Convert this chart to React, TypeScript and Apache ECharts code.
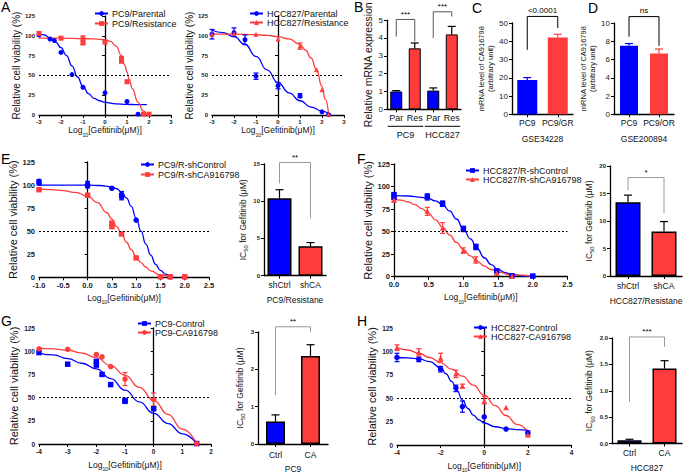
import React, { useEffect, useRef } from "react";
import * as echarts from "echarts";

// ---------------- data ----------------
// Panel A (left) – PC9
const aPc9ParentalPts = [[-3, 101], [-2.5, 96], [-2.3, 94], [-2, 79], [-1.5, 51], [-1, 35], [0, 28], [1, 17], [1.5, 1]];
const aPc9ParentalCurve = [[-3, 104], [-2.75, 101], [-2.5, 97], [-2.25, 92], [-2, 85], [-1.75, 75], [-1.5, 62], [-1.25, 48], [-1, 36], [-0.75, 27], [-0.5, 21], [-0.25, 18], [0, 16], [0.5, 14], [1, 13.5], [1.5, 13], [1.9, 13]];
const aPc9ResistPts = [[-3, 103], [-2, 97], [-1, 96], [-1, 91], [0, 92], [0.75, 71], [0.75, 68], [1, 42], [1.75, 1], [2, 1]];
const aPc9ResistErr = [[-1, 89, 100], [0.75, 66, 74]];
const aPc9ResistCurve = [[-3, 97], [-2, 97], [-1, 96.5], [-0.5, 96], [0, 95], [0.25, 93], [0.5, 87], [0.75, 75], [0.9, 63], [1, 54], [1.1, 45], [1.25, 33], [1.5, 16], [1.75, 5], [1.9, 0]];
// Panel A (right) – HCC827
const aHccParentalPts = [[-3, 102], [-2, 104], [-1.5, 95], [-1, 49], [0, 37], [1, 24], [2, 4], [2.3, 0.5]];
const aHccParentalErr = [[-3, 96, 108], [-2, 99, 110], [-1.5, 89, 101], [-1, 45, 53], [0, 33, 41], [1, 22, 27]];
const aHccParentalCurve = [[-3, 107], [-2.5, 104], [-2, 99], [-1.5, 89], [-1, 74], [-0.5, 57], [0, 41], [0.5, 28], [1, 18], [1.5, 10], [2, 5], [2.3, 2]];
const aHccResistPts = [[-3, 102], [-2, 103], [-1, 102], [0, 96], [1, 87], [1.75, 57], [2, 32], [2.3, 1]];
const aHccResistErr = [[1, 83, 91]];
const aHccResistCurve = [[-3, 102], [-2, 102], [-1, 101.5], [-0.5, 100.5], [0, 99], [0.5, 96], [1, 89], [1.25, 82], [1.5, 72], [1.75, 57], [2, 36], [2.15, 20], [2.3, 1]];
// Panel B
const bCategories = ["Par", "Res", "Par", "Res"];
const bGroups = ["PC9", "HCC827"];
const bValues = [1.0, 3.42, 1.05, 4.2];
const bErrors = [0.05, 0.3, 0.15, 0.45];
// Panel C
const cCategories = ["PC9", "PC9/GR"];
const cValues = [18.8, 42];
const cErrors = [1.3, 1.8];
// Panel D
const dCategories = ["PC9", "PC9/OR"];
const dValues = [7.5, 6.65];
const dErrors = [0.25, 0.5];
// Panel E
const eCtrlPts = [[-1, 104], [-1, 102], [0, 101], [0, 99], [0.5, 96.5], [0.7, 90], [0.7, 87], [1, 62], [1.7, 0.5], [2, 0.5]];
const eCtrlErr = [[-1, 100, 106], [0, 97, 104], [0.7, 84, 93]];
const eCtrlCurve = [[-1, 100], [-0.5, 100], [0, 100], [0.25, 99.5], [0.5, 98], [0.6, 96], [0.7, 92.5], [0.8, 86], [0.9, 77], [1, 64], [1.1, 50], [1.2, 36], [1.3, 24], [1.4, 14], [1.5, 7.5], [1.6, 3.5], [1.7, 1]];
const eShPts = [[-1, 95], [0, 89], [0.5, 58], [0.5, 55], [0.7, 47], [1, 21], [1.5, 0.5], [1.7, 0.5], [2, 0.5]];
const eShErr = [[0.5, 53, 61]];
const eShCurve = [[-1, 95.5], [-0.75, 95], [-0.5, 94], [-0.25, 92], [0, 88], [0.2, 81], [0.4, 70], [0.5, 63], [0.6, 55], [0.7, 47], [0.8, 38], [0.9, 30], [1, 22], [1.1, 16], [1.2, 11], [1.3, 7], [1.5, 2.5], [1.7, 0.5]];
const eBarCategories = ["shCtrl", "shCA"];
const eBarValues = [10.4, 3.95];
const eBarErrors = [1.15, 0.5];
// Panel F
const fCtrlPts = [[0, 91], [0, 88], [0.48, 88.5], [0.7, 81], [1, 53], [1.18, 33], [1.48, 6.5], [1.7, 1], [2, 0.7]];
const fCtrlErr = [[0, 86, 93], [0.48, 85, 92], [0.7, 78, 84], [1, 50, 56], [1.18, 30, 36]];
const fCtrlCurve = [[0, 90], [0.2, 89.5], [0.4, 88], [0.5, 86.5], [0.6, 84], [0.7, 80], [0.8, 73], [0.9, 64], [1, 53], [1.1, 42], [1.2, 31], [1.3, 21], [1.4, 13.5], [1.5, 8], [1.6, 4.5], [1.7, 2.5], [1.85, 1], [2, 0.5]];
const fShPts = [[0, 85], [0.48, 73], [0.7, 54], [1, 29], [1.18, 19], [1.48, 4], [1.7, 0.7]];
const fShErr = [[0, 83, 88], [0.48, 68, 77], [0.7, 48, 60], [1, 26, 32], [1.18, 15, 22], [1.48, 2, 5]];
const fShCurve = [[0, 86], [0.1, 85], [0.2, 83], [0.3, 80], [0.4, 75.5], [0.5, 70], [0.6, 63], [0.7, 55], [0.8, 46.5], [0.9, 38], [1, 30], [1.1, 23], [1.2, 17], [1.3, 12], [1.4, 8], [1.5, 5], [1.7, 2], [2, 0.5]];
const fBarCategories = ["shCtrl", "shCA"];
const fBarValues = [13.4, 8.1];
const fBarErrors = [1.3, 1.8];
// Panel G
const gCtrlPts = [[-4, 98.5], [-3, 86], [-2, 89], [-2, 85], [-1.8, 75], [-1.5, 64], [-1, 47], [-1, 46], [0, 38], [1.5, 0.5]];
const gCtrlCurve = [[-4, 98], [-3.5, 96], [-3, 92], [-2.5, 87], [-2, 81], [-1.5, 70.5], [-1, 58], [-0.5, 45.5], [0, 33], [0.5, 22], [1, 11], [1.5, 0.5]];
const gCaPts = [[-4, 102.5], [-3, 102], [-2, 96.5], [-1.8, 94], [-1.5, 83.5], [-1, 70], [0, 48], [1.5, 0.5]];
const gCaErr = [[-1, 63, 77], [0, 41, 55]];
const gCaCurve = [[-4, 103], [-3.5, 102.5], [-3, 101], [-2.5, 98], [-2, 93], [-1.5, 84.5], [-1, 74], [-0.5, 61], [0, 47], [0.5, 32], [1, 16], [1.5, 0.5]];
const gBarCategories = ["Ctrl", "CA"];
const gBarValues = [0.6, 2.36];
const gBarErrors = [0.18, 0.3];
// Panel H
const hCtrlPts = [[-4, 93.5], [-3, 91.5], [-2, 81], [-1.3, 61], [-1, 41], [0, 30], [1, 17], [2, 13]];
const hCtrlErr = [[-4, 89, 98], [-3, 89, 94], [-2, 78, 84], [-1.3, 57, 64], [-1, 35, 47], [2, 11, 15]];
const hCtrlCurve = [[-4, 93.5], [-3.5, 93], [-3, 92], [-2.5, 89], [-2, 82.5], [-1.75, 76], [-1.5, 68], [-1.25, 58], [-1, 48], [-0.75, 39], [-0.5, 32], [-0.25, 27], [0, 23.5], [0.5, 19.5], [1, 17.5], [1.5, 16.5], [2, 16]];
const hCaPts = [[-4, 104], [-3, 99], [-2, 93], [-1.3, 76], [-1, 63], [0, 47], [1, 40], [2, 11]];
const hCaErr = [[-4, 101, 107], [-3, 95, 103], [-2, 89, 98], [-1.3, 72, 80], [-1, 61, 65], [0, 44, 52], [2, 9, 13]];
const hCaCurve = [[-4, 104], [-3.5, 101.5], [-3, 98], [-2.5, 93.5], [-2, 88], [-1.5, 81], [-1, 73.5], [-0.5, 64], [0, 53], [0.5, 42], [1, 31.5], [1.5, 22], [2, 14]];
const hBarCategories = ["Ctrl", "CA"];
const hBarValues = [0.06, 1.42];
const hBarErrors = [0.02, 0.15];
// significance brackets: [cat1, cat2, top, leftLegEnd, rightLegEnd]
const bBrackets = [[0, 1, 5.04, 4.07, 3.8], [2, 3, 5.47, 4.0, 5.2]];
const bBracketLabels = ["***", "***"];
const cBrackets = [[0, 1, 53.6, 35.3, 47.2]];
const cBracketLabels = ["<0.0001"];
const dBrackets = [[0, 1, 10.7, 8.5, 7.5]];
const dBracketLabels = ["ns"];
const eBrackets = [[0, 1, 15.2, 12.4, 7.7]];
const eBracketLabels = ["**"];
const fBrackets = [[0, 1, 17.9, 15.6, 11.4]];
const fBracketLabels = ["*"];
const gBrackets = [[0, 1, 3.14, 1.31, 3.0]];
const gBracketLabels = ["**"];
const hBrackets = [[0, 1, 2.02, 0.79, 1.83]];
const hBracketLabels = ["***"];

// ---------------- styles ----------------
const FONT = "'Liberation Sans', Arial, Helvetica, sans-serif";
const BLUE = "#0000ff";
const RED = "#ff3c3c";

type SetCfg = { name: string; color: string; symbol: string; size: number; pts: number[][]; err: number[][]; curve: number[][] };

function errRenderer(color: string, cap: number, upperOnly: boolean) {
  return (params: any, api: any) => {
    const x = api.value(0);
    const lo = api.value(1);
    const hi = api.value(2);
    const p1 = api.coord([x, lo]);
    const p2 = api.coord([x, hi]);
    const style = { stroke: color, lineWidth: 1.2 };
    const children: any[] = [
      { type: "line", shape: { x1: p1[0], y1: p1[1], x2: p2[0], y2: p2[1] }, style },
      { type: "line", shape: { x1: p2[0] - cap, y1: p2[1], x2: p2[0] + cap, y2: p2[1] }, style },
    ];
    if (!upperOnly) children.push({ type: "line", shape: { x1: p1[0] - cap, y1: p1[1], x2: p1[0] + cap, y2: p1[1] }, style });
    return { type: "group", children };
  };
}

function bracketRenderer(labels: string[], color: string, fontSize: number, gap: number) {
  return (params: any, api: any) => {
    const i1 = api.value(0), i2 = api.value(1), yt = api.value(2), y1 = api.value(3), y2 = api.value(4);
    const a = api.coord([i1, y1]);
    const b = api.coord([i1, yt]);
    const c = api.coord([i2, yt]);
    const d = api.coord([i2, y2]);
    return {
      type: "group",
      children: [
        { type: "polyline", shape: { points: [a, b, c, d] }, style: { stroke: color, lineWidth: 1, fill: "none" } },
        {
          type: "text",
          x: (b[0] + c[0]) / 2,
          y: b[1] - gap,
          style: { text: labels[params.dataIndex], fontSize, fontFamily: FONT, fill: "#000", align: "center", verticalAlign: "bottom" },
        },
      ],
    };
  };
}

function buildOption() {
  const grid: any[] = [];
  const xAxis: any[] = [];
  const yAxis: any[] = [];
  const series: any[] = [];
  const legend: any[] = [];

  const logName = "{a|Log}{s|10}{a|[Gefitinib(μM)]}";
  const richLog = (size: number) => ({
    a: { fontSize: size, fontFamily: FONT, color: "#111", lineHeight: size + 3, verticalAlign: "top" },
    s: { fontSize: size * 0.62, fontFamily: FONT, color: "#111", lineHeight: size + 3, verticalAlign: "bottom" },
  });

  function addCurvePanel(o: {
    rect: number[]; xMin: number; xMax: number; xInt: number; xDec: number;
    sets: SetCfg[]; legendAt: number[]; tickFont: number; yNameSize: number; yNameGap: number; xNameGap: number; xNameSize: number; legendFont: number; legendGap: number;
  }) {
    const gi = grid.length;
    grid.push({ left: o.rect[0], top: o.rect[1], width: o.rect[2], height: o.rect[3] });
    xAxis.push({
      gridIndex: gi, type: "value", min: o.xMin, max: o.xMax, interval: o.xInt,
      axisLine: { onZero: false, lineStyle: { color: "#000", width: 1.3 } },
      axisTick: { length: 3, lineStyle: { color: "#000", width: 1 } },
      axisLabel: { fontSize: o.tickFont, fontWeight: "bold", fontFamily: FONT, color: "#222", margin: 4, formatter: (v: number) => v.toFixed(o.xDec) },
      splitLine: { show: false },
      name: logName, nameLocation: "middle", nameGap: o.xNameGap,
      nameTextStyle: { rich: richLog(o.xNameSize) },
    });
    yAxis.push({
      gridIndex: gi, type: "value", min: 0, max: 125, interval: 25,
      axisLine: { show: true, lineStyle: { color: "#000", width: 1.3 } },
      axisTick: { show: true, length: 3, lineStyle: { color: "#000", width: 1 } },
      axisLabel: { fontSize: o.tickFont, fontWeight: "bold", fontFamily: FONT, color: "#222", margin: 4 },
      splitLine: { show: false },
      name: "Relative cell viability (%)", nameLocation: "middle", nameGap: o.yNameGap,
      nameTextStyle: { fontSize: o.yNameSize, fontFamily: FONT, color: "#111" },
    });
    o.sets.forEach((s, k) => {
      series.push({
        type: "line", name: s.name, xAxisIndex: gi, yAxisIndex: gi, data: s.curve,
        smooth: 0.5, smoothMonotone: "x", symbol: s.symbol, showSymbol: false,
        lineStyle: { color: s.color, width: 1.3 }, itemStyle: { color: s.color }, z: 2,
        markLine: k === 0 ? {
          silent: true, symbol: "none", label: { show: false },
          lineStyle: { type: [2, 2], color: "#000", width: 1 }, data: [{ yAxis: 50 }],
        } : undefined,
      });
      series.push({
        type: "scatter", name: s.name, xAxisIndex: gi, yAxisIndex: gi, data: s.pts,
        symbol: s.symbol, symbolSize: s.size, itemStyle: { color: s.color, opacity: 1 }, z: 4,
      });
      if (s.err.length) {
        series.push({
          type: "custom", xAxisIndex: gi, yAxisIndex: gi, data: s.err, silent: true,
          encode: { x: 0, y: [1, 2] }, renderItem: errRenderer(s.color, 2.5, false), z: 3,
        });
      }
    });
    legend.push({
      orient: "vertical", left: o.legendAt[0], top: o.legendAt[1], padding: 0, itemGap: o.legendGap,
      itemWidth: 13, itemHeight: 6, selectedMode: false,
      textStyle: { fontSize: o.legendFont, fontFamily: FONT, color: "#111", padding: [0, 0, 0, -1] },
      data: o.sets.map((s) => s.name),
    });
  }

  function addBarPanel(o: {
    rect: number[]; cats: string[]; values: number[]; errors: number[]; colors: string[]; errColors: string[];
    borderWidth: number; barWidth: number; yMax: number; yInt: number; yDec: number; tickFont: number; tickBold: boolean;
    yName: string; yRich?: any; yNameSize: number; yNameGap: number; yNameLineHeight?: number;
    xName?: string; xNameGap?: number; catFont: number; catMargin: number;
    brackets: number[][]; bracketLabels: string[]; bracketColor: string; bracketFont: number; bracketGap: number;
  }) {
    const gi = grid.length;
    grid.push({ left: o.rect[0], top: o.rect[1], width: o.rect[2], height: o.rect[3] });
    xAxis.push({
      gridIndex: gi, type: "category", data: o.cats,
      axisLine: { lineStyle: { color: "#000", width: 1.3 } },
      axisTick: { show: true, alignWithLabel: true, length: 3, lineStyle: { color: "#000" } },
      axisLabel: { fontSize: o.catFont, fontFamily: FONT, color: "#111", margin: o.catMargin, interval: 0 },
      name: o.xName || "", nameLocation: "middle", nameGap: o.xNameGap || 20,
      nameTextStyle: { fontSize: o.catFont, fontFamily: FONT, color: "#111" },
    });
    yAxis.push({
      gridIndex: gi, type: "value", min: 0, max: o.yMax, interval: o.yInt,
      axisLine: { show: true, lineStyle: { color: "#000", width: 1.3 } },
      axisTick: { show: true, length: 3, lineStyle: { color: "#000" } },
      axisLabel: { fontSize: o.tickFont, fontWeight: o.tickBold ? "bold" : "normal", fontFamily: FONT, color: "#222", margin: 4, formatter: (v: number) => v.toFixed(o.yDec) },
      splitLine: { show: false },
      name: o.yName, nameLocation: "middle", nameGap: o.yNameGap,
      nameTextStyle: { fontSize: o.yNameSize, fontFamily: FONT, color: "#111", lineHeight: o.yNameLineHeight, rich: o.yRich },
    });
    series.push({
      type: "bar", xAxisIndex: gi, yAxisIndex: gi, barWidth: o.barWidth, silent: true,
      data: o.values.map((v, i) => ({ value: v, itemStyle: { color: o.colors[i], borderColor: "#000", borderWidth: o.borderWidth } })),
      z: 2,
    });
    o.values.forEach((v, i) => {
      series.push({
        type: "custom", xAxisIndex: gi, yAxisIndex: gi, silent: true, z: 3,
        data: [[i, v, v + o.errors[i]]], encode: { x: 0, y: [1, 2] },
        renderItem: errRenderer(o.errColors[i], 4, true),
      });
    });
    series.push({
      type: "custom", xAxisIndex: gi, yAxisIndex: gi, silent: true, z: 3,
      data: o.brackets, encode: { x: 0, y: 2 },
      renderItem: bracketRenderer(o.bracketLabels, o.bracketColor, o.bracketFont, o.bracketGap),
    });
    return gi;
  }

  // ---- A ----
  addCurvePanel({
    rect: [39, 16, 132, 99], xMin: -3, xMax: 3, xInt: 1, xDec: 0, tickFont: 6, yNameSize: 10, yNameGap: 18, xNameGap: 9, xNameSize: 8.5,
    legendAt: [94, 9], legendFont: 9, legendGap: 1,
    sets: [
      { name: "PC9/Parental", color: BLUE, symbol: "circle", size: 5, pts: aPc9ParentalPts, err: [], curve: aPc9ParentalCurve },
      { name: "PC9/Resistance", color: RED, symbol: "rect", size: 5, pts: aPc9ResistPts, err: aPc9ResistErr, curve: aPc9ResistCurve },
    ],
  });
  addCurvePanel({
    rect: [212, 16, 132, 99], xMin: -3, xMax: 3, xInt: 1, xDec: 0, tickFont: 6, yNameSize: 10, yNameGap: 18, xNameGap: 9, xNameSize: 8.5,
    legendAt: [249, 9], legendFont: 9, legendGap: 0,
    sets: [
      { name: "HCC827/Parental", color: BLUE, symbol: "circle", size: 5, pts: aHccParentalPts, err: aHccParentalErr, curve: aHccParentalCurve },
      { name: "HCC827/Resistance", color: RED, symbol: "triangle", size: 5, pts: aHccResistPts, err: aHccResistErr, curve: aHccResistCurve },
    ],
  });

  // ---- B ----
  const bIdx = addBarPanel({
    rect: [387, 14, 74, 95.3], cats: bCategories, values: bValues, errors: bErrors,
    colors: [BLUE, RED, BLUE, RED], errColors: ["#000", "#000", "#000", "#000"], borderWidth: 1, barWidth: 12,
    yMax: 5, yInt: 1, yDec: 0, tickFont: 8, tickBold: false,
    yName: "Relative mRNA expression", yNameSize: 10.5, yNameGap: 14, catFont: 9, catMargin: 4,
    brackets: bBrackets, bracketLabels: bBracketLabels, bracketColor: "#555", bracketFont: 8, bracketGap: 1,
  });
  series.push({
    type: "custom", xAxisIndex: bIdx, yAxisIndex: bIdx, silent: true,
    data: [[0, 1], [2, 3]], encode: { x: 0 },
    renderItem: (params: any, api: any) => {
      const a = api.coord([api.value(0), 0]);
      const b = api.coord([api.value(1), 0]);
      const hb = api.size([1, 0])[0] / 2 * 0.92;
      return {
        type: "group",
        children: [
          { type: "line", shape: { x1: a[0] - hb, y1: a[1] + 17, x2: b[0] + hb, y2: a[1] + 17 }, style: { stroke: "#000", lineWidth: 1 } },
          { type: "text", x: (a[0] + b[0]) / 2, y: a[1] + 21, style: { text: bGroups[params.dataIndex], fontSize: 9, fontFamily: FONT, fill: "#111", align: "center", verticalAlign: "top" } },
        ],
      };
    },
  });

  // ---- C / D ----
  addBarPanel({
    rect: [512, 23, 61, 91.3], cats: cCategories, values: cValues, errors: cErrors,
    colors: [BLUE, RED], errColors: [BLUE, RED], borderWidth: 0, barWidth: 20,
    yMax: 50, yInt: 10, yDec: 0, tickFont: 8, tickBold: false,
    yName: "mRNA level of CA916798\n(arbitrary unit)", yNameSize: 7.5, yNameLineHeight: 9, yNameGap: 11,
    xName: "GSE34228", xNameGap: 20, catFont: 8.5, catMargin: 4,
    brackets: cBrackets, bracketLabels: cBracketLabels, bracketColor: "#000", bracketFont: 8, bracketGap: 2,
  });
  addBarPanel({
    rect: [614, 23, 60, 91.3], cats: dCategories, values: dValues, errors: dErrors,
    colors: [BLUE, RED], errColors: [BLUE, RED], borderWidth: 0, barWidth: 18,
    yMax: 10, yInt: 2, yDec: 0, tickFont: 8, tickBold: false,
    yName: "mRNA level of CA916798\n(arbitrary unit)", yNameSize: 7.5, yNameLineHeight: 9, yNameGap: 11,
    xName: "GSE200894", xNameGap: 20, catFont: 8.5, catMargin: 4,
    brackets: dBrackets, bracketLabels: dBracketLabels, bracketColor: "#000", bracketFont: 8, bracketGap: 2,
  });

  const icRich = {
    a: { fontSize: 8.5, fontFamily: FONT, color: "#111", lineHeight: 11, verticalAlign: "top" },
    s: { fontSize: 6, fontFamily: FONT, color: "#111", lineHeight: 11, verticalAlign: "bottom" },
  };
  const icName = "{a|IC}{s|50}{a| for Gefitinib (μM)}";

  // ---- E ----
  addCurvePanel({
    rect: [39, 162, 170, 115.3], xMin: -1, xMax: 2.5, xInt: 0.5, xDec: 1, tickFont: 7.5, yNameSize: 11, yNameGap: 20, xNameGap: 16, xNameSize: 8.5,
    legendAt: [140, 160], legendFont: 9, legendGap: 1,
    sets: [
      { name: "PC9/R-shControl", color: BLUE, symbol: "circle", size: 5.5, pts: eCtrlPts, err: eCtrlErr, curve: eCtrlCurve },
      { name: "PC9/R-shCA916798", color: RED, symbol: "rect", size: 5.5, pts: eShPts, err: eShErr, curve: eShCurve },
    ],
  });
  addBarPanel({
    rect: [264, 164, 62, 111.7], cats: eBarCategories, values: eBarValues, errors: eBarErrors,
    colors: [BLUE, RED], errColors: ["#000", "#000"], borderWidth: 1.5, barWidth: 24,
    yMax: 15, yInt: 5, yDec: 0, tickFont: 6, tickBold: true,
    yName: icName, yRich: icRich, yNameSize: 8.5, yNameGap: 12,
    xName: "PC9/Resistane", xNameGap: 20, catFont: 8.5, catMargin: 5,
    brackets: eBrackets, bracketLabels: eBracketLabels, bracketColor: "#999", bracketFont: 8, bracketGap: 1,
  });

  // ---- F ----
  addCurvePanel({
    rect: [394, 164, 173.5, 112.7], xMin: 0, xMax: 2.5, xInt: 0.5, xDec: 1, tickFont: 7.5, yNameSize: 11, yNameGap: 20, xNameGap: 16, xNameSize: 8.5,
    legendAt: [465, 166], legendFont: 9, legendGap: 0,
    sets: [
      { name: "HCC827/R-shControl", color: BLUE, symbol: "rect", size: 5.5, pts: fCtrlPts, err: fCtrlErr, curve: fCtrlCurve },
      { name: "HCC827/R-shCA916798", color: RED, symbol: "triangle", size: 5.5, pts: fShPts, err: fShErr, curve: fShCurve },
    ],
  });
  addBarPanel({
    rect: [610, 166, 72, 110], cats: fBarCategories, values: fBarValues, errors: fBarErrors,
    colors: [BLUE, RED], errColors: ["#000", "#000"], borderWidth: 1.5, barWidth: 25,
    yMax: 20, yInt: 5, yDec: 0, tickFont: 6, tickBold: true,
    yName: icName, yRich: icRich, yNameSize: 8.5, yNameGap: 14,
    xName: "HCC827/Resistane", xNameGap: 20, catFont: 8.5, catMargin: 5,
    brackets: fBrackets, bracketLabels: fBracketLabels, bracketColor: "#999", bracketFont: 8, bracketGap: 1,
  });

  // ---- G ----
  addCurvePanel({
    rect: [39, 328, 172, 116], xMin: -4, xMax: 2, xInt: 1, xDec: 0, tickFont: 6.5, yNameSize: 11, yNameGap: 20, xNameGap: 16, xNameSize: 8.5,
    legendAt: [137, 319], legendFont: 9, legendGap: 0,
    sets: [
      { name: "PC9-Control", color: BLUE, symbol: "rect", size: 5.5, pts: gCtrlPts, err: [], curve: gCtrlCurve },
      { name: "PC9-CA916798", color: RED, symbol: "circle", size: 5.5, pts: gCaPts, err: gCaErr, curve: gCaCurve },
    ],
  });
  addBarPanel({
    rect: [258, 332, 70, 112], cats: gBarCategories, values: gBarValues, errors: gBarErrors,
    colors: [BLUE, RED], errColors: ["#000", "#000"], borderWidth: 1.5, barWidth: 19,
    yMax: 3, yInt: 1, yDec: 0, tickFont: 6, tickBold: true,
    yName: icName, yRich: icRich, yNameSize: 8.5, yNameGap: 12,
    xName: "PC9", xNameGap: 20, catFont: 8.5, catMargin: 6,
    brackets: gBrackets, bracketLabels: gBracketLabels, bracketColor: "#999", bracketFont: 8, bracketGap: 1,
  });

  // ---- H ----
  addCurvePanel({
    rect: [397, 328, 174.5, 117], xMin: -4, xMax: 4, xInt: 2, xDec: 0, tickFont: 6.5, yNameSize: 11, yNameGap: 20, xNameGap: 16, xNameSize: 8.5,
    legendAt: [473, 323], legendFont: 9, legendGap: 0,
    sets: [
      { name: "HCC827-Control", color: BLUE, symbol: "circle", size: 5.5, pts: hCtrlPts, err: hCtrlErr, curve: hCtrlCurve },
      { name: "HCC827-CA916798", color: RED, symbol: "triangle", size: 5.5, pts: hCaPts, err: hCaErr, curve: hCaCurve },
    ],
  });
  addBarPanel({
    rect: [612, 338, 70, 105.5], cats: hBarCategories, values: hBarValues, errors: hBarErrors,
    colors: [BLUE, RED], errColors: ["#000", "#000"], borderWidth: 1.5, barWidth: 24,
    yMax: 2, yInt: 0.5, yDec: 1, tickFont: 6, tickBold: true,
    yName: icName, yRich: icRich, yNameSize: 8.5, yNameGap: 16,
    xName: "HCC827", xNameGap: 20, catFont: 8.5, catMargin: 5,
    brackets: hBrackets, bracketLabels: hBracketLabels, bracketColor: "#999", bracketFont: 8, bracketGap: 1,
  });

  const letter = (t: string, x: number, y: number) => ({
    type: "text", left: x, top: y, style: { text: t, fontSize: 14, fontFamily: FONT, fill: "#000" },
  });

  return {
    animation: false,
    backgroundColor: "#fff",
    grid, xAxis, yAxis, series, legend,
    graphic: {
      elements: [
        letter("A", 1, 0), letter("B", 354, 0), letter("C", 472, 1), letter("D", 588, 1),
        letter("E", 1, 152), letter("F", 357, 152), letter("G", 1, 314), letter("H", 357, 314),
      ],
    },
  };
}

export default function App() {
  const ref = useRef<HTMLDivElement>(null);
  useEffect(() => {
    if (!ref.current) return;
    const chart = echarts.init(ref.current, undefined, { renderer: "svg" });
    chart.setOption(buildOption() as any);
    return () => chart.dispose();
  }, []);
  return <div ref={ref} style={{ position: "absolute", left: 0, top: 0, width: 685, height: 474 }} />;
}
